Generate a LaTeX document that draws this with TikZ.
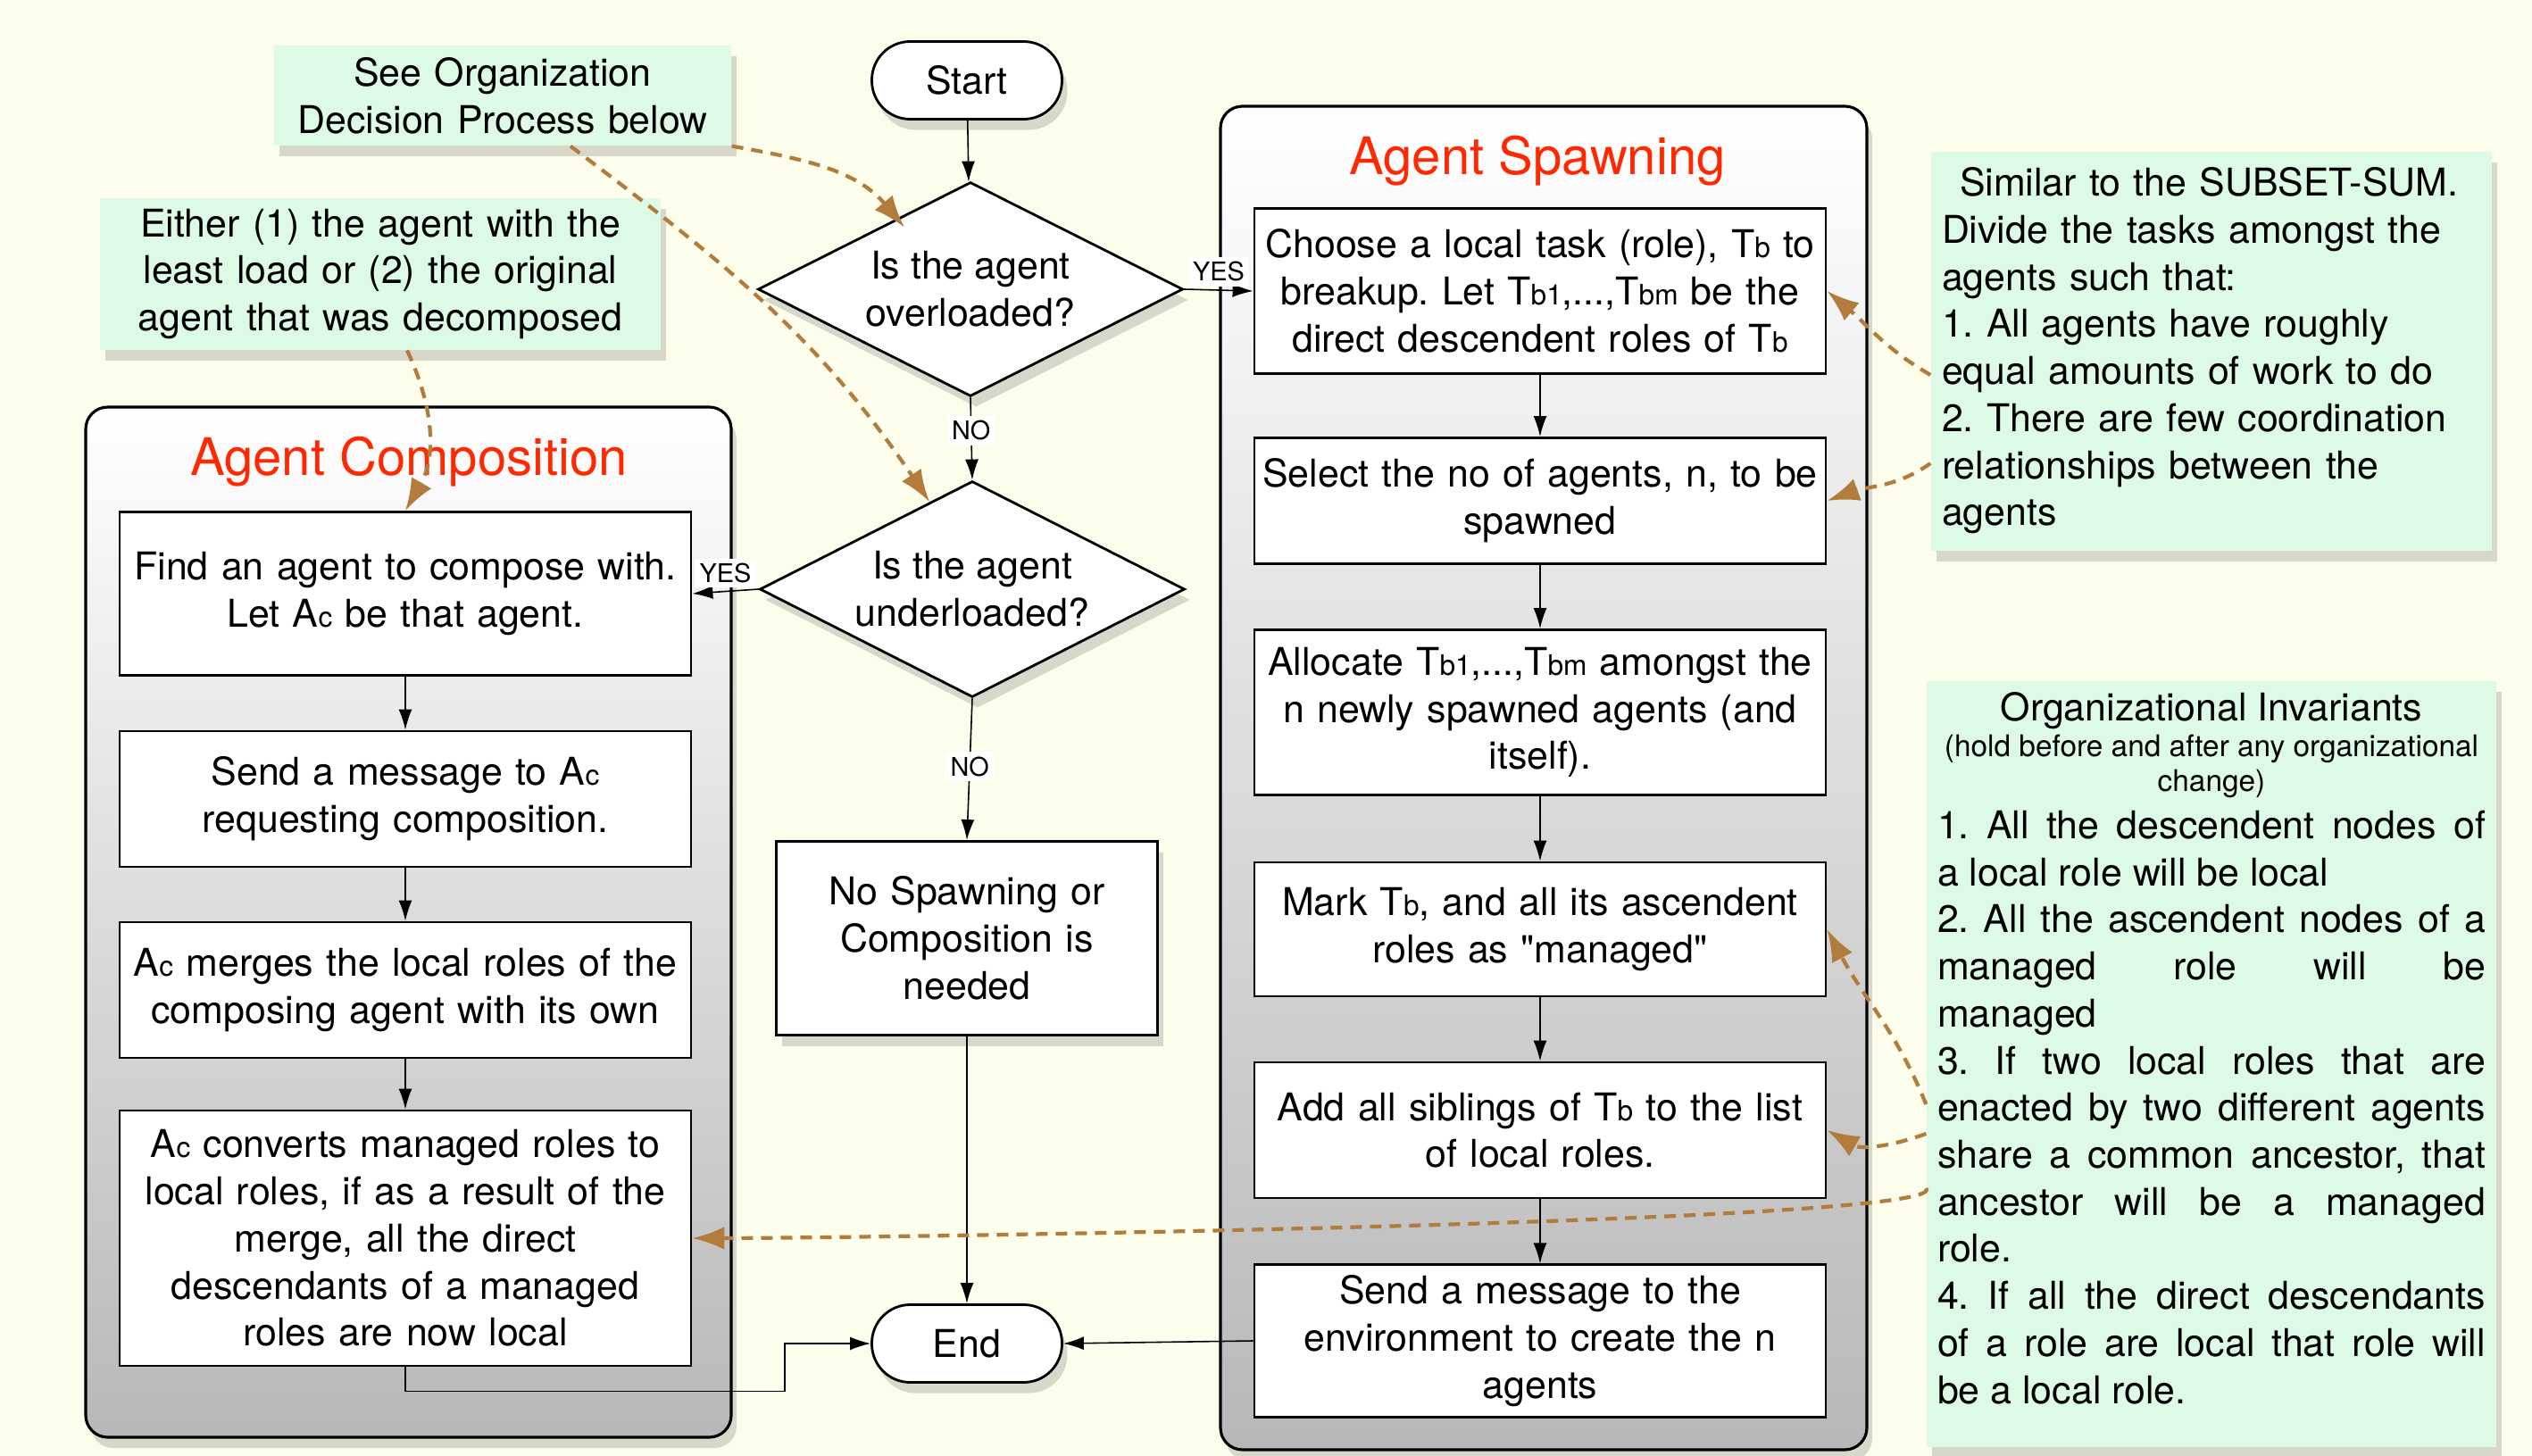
\documentclass[tikz,border=0pt]{standalone}
\usepackage{fontspec}
\setmainfont{TeX Gyre Heros}
\newfontfamily\plainfont{TeX Gyre Heros}
\usepackage{tikz}
\usetikzlibrary{arrows.meta,shapes.geometric,positioning,calc,shadows}
\frenchspacing

\definecolor{cream}{RGB}{253,253,235}
\definecolor{notegreen}{RGB}{220,250,229}
\definecolor{titlered}{RGB}{255,40,0}
\definecolor{linkbrown}{RGB}{178,124,60}
\newcommand{\sbs}[1]{{\fontsize{9}{9}\selectfont #1}}
\newcommand{\dq}{{\plainfont\symbol{34}}}

\begin{document}
\begin{tikzpicture}[
    font=\fontsize{12.2}{15}\selectfont,
    dropsh/.style={drop shadow={shadow xshift=0.6mm, shadow yshift=-1.2mm, opacity=0.3}},
    box/.style={draw, line width=0.8pt, fill=white, text width=6.4cm, inner xsep=0pt, align=center},
    term/.style={draw, line width=0.8pt, fill=white, rounded corners=4.3mm, minimum width=2.13cm, minimum height=0.87cm, dropsh},
    decision/.style={diamond, draw, line width=0.8pt, fill=white, aspect=2, minimum width=4.76cm, minimum height=2.4cm, inner sep=0pt, align=center, dropsh},
    note/.style={fill=notegreen, dropsh},
    group/.style={draw, line width=0.9pt, rounded corners=7pt, top color=white, bottom color=black!28, dropsh},
    grouptitle/.style={text=titlered, font=\fontsize{16.5}{18}\selectfont},
    lbl/.style={fill=white, inner sep=1.5pt, font=\fontsize{8.2}{9}\selectfont},
    arr/.style={-{Latex[length=2.3mm, width=1.5mm]}, line width=0.45pt},
    link/.style={linkbrown, line width=1.2pt, dash pattern=on 1.3mm off 0.9mm, -{Latex[length=3.6mm, width=2.6mm]}}
]
\useasboundingbox (0,0) rectangle (28.36,-16.31);
\fill[cream] (0,0) rectangle (28.36,-16.31);

% containers
\node[group, minimum width=7.23cm, minimum height=11.54cm] (compgrp) at (4.575,-10.33) {};
\node[group, minimum width=7.24cm, minimum height=15.05cm] (spawngrp) at (17.29,-8.715) {};
\node[grouptitle] (comptitle) at (4.58,-5.17) {Agent Composition};
\node[grouptitle] (spawntitle) at (17.22,-1.80) {Agent Spawning};

% main flow
\node[term] (start) at (10.83,-0.90) {Start};
\node[decision] (d1) at (10.87,-3.24) {Is the agent\\overloaded?};
\node[decision, minimum height=2.42cm] (d2) at (10.89,-6.60) {Is the agent\\underloaded?};
\node[box, text width=4.27cm, minimum height=2.17cm, dropsh] (nospawn) at (10.83,-10.51) {No Spawning or\\Composition is\\needed};
\node[term] (endn) at (10.83,-15.05) {End};

% composition
\node[box, minimum height=1.83cm] (find) at (4.54,-6.65) {Find an agent to compose with.\\Let A\sbs{c} be that agent.};
\node[box, minimum height=1.52cm] (sendmsg) at (4.54,-8.95) {Send a message to A\sbs{c}\\requesting composition.};
\node[box, minimum height=1.52cm] (merge) at (4.54,-11.09) {A\sbs{c} merges the local roles of the\\composing agent with its own};
\node[box, minimum height=2.86cm] (convert) at (4.54,-13.87) {A\sbs{c} converts managed roles to\\local roles, if as a result of the\\merge, all the direct\\descendants of a managed\\roles are now local};

% spawning
\node[box, minimum height=1.85cm] (choose) at (17.25,-3.26) {Choose a local task (role), T\sbs{b} to\\breakup. Let T\sbs{b1},...,T\sbs{bm} be the\\direct descendent roles of T\sbs{b}};
\node[box, minimum height=1.41cm] (select) at (17.25,-5.61) {Select the no of agents, n, to be\\spawned};
\node[box, minimum height=1.85cm] (alloc) at (17.25,-7.98) {Allocate T\sbs{b1},...,T\sbs{bm} amongst the\\n newly spawned agents (and\\itself).};
\node[box, minimum height=1.50cm] (mark) at (17.25,-10.41) {Mark T\sbs{b}, and all its ascendent\\roles as \dq managed\dq};
\node[box, minimum height=1.52cm] (addsib) at (17.25,-12.66) {Add all siblings of T\sbs{b} to the list\\of local roles.};
\node[box, minimum height=1.68cm] (sendenv) at (17.25,-15.02) {Send a message to the\\environment to create the n\\agents};

% notes
\node[note, text width=5.0cm, inner xsep=0.06cm, minimum height=1.12cm, align=center] (seeorg) at (5.63,-1.07) {See Organization\\Decision Process below};
\node[note, text width=6.16cm, inner xsep=0.06cm, minimum height=1.66cm, align=center] (either) at (4.26,-3.07) {Either (1) the agent with the\\least load or (2) the original\\agent that was decomposed};
\node[note, text width=6.04cm, inner xsep=0.12cm, minimum height=4.47cm, align=left] (similar) at (24.77,-3.93) {\hspace*{0.2cm}Similar to the SUBSET-SUM.\\Divide the tasks amongst the\\agents such that:\\1. All agents have roughly\\equal amounts of work to do\\2. There are few coordination\\relationships between the\\agents};
\node[note, text width=6.14cm, inner xsep=0.12cm, minimum height=8.58cm, align=justify] (invar) at (24.77,-11.92) {%
  {\centering Organizational Invariants\par
  {\fontsize{9.5}{11.3}\selectfont (hold before and after any organizational change)\par}}
  1. All the descendent nodes of\linebreak a local role will be local\par
  2. All the ascendent nodes of a\linebreak managed role will be\linebreak managed\par
  3. If two local roles that are\linebreak enacted by two different agents\linebreak share a common ancestor, that\linebreak ancestor will be a managed\linebreak role.\par
  4. If all the direct descendants\linebreak of a role are local that role will\linebreak be a local role.\par
  \vspace{0.36cm}\hrule height 0pt};

% flow arrows
\draw[arr] (start) -- (d1);
\draw[arr] (d1.east) -- node[lbl, above=1pt] {YES} (choose.west);
\draw[arr] (d1.south) -- node[lbl, pos=0.4] {NO} (d2.north);
\draw[arr] (d2.west) -- node[lbl, above=1pt] {YES} (find.east);
\draw[arr] (d2.south) -- node[lbl, pos=0.48] {NO} (nospawn.north);
\draw[arr] (nospawn) -- (endn);
\draw[arr] (find) -- (sendmsg);
\draw[arr] (sendmsg) -- (merge);
\draw[arr] (merge) -- (convert);
\draw[arr] (convert.south) -- ++(0,-0.27) -| ([xshift=-9.6mm]endn.west) -- (endn.west);
\draw[arr] (choose) -- (select);
\draw[arr] (select) -- (alloc);
\draw[arr] (alloc) -- (mark);
\draw[arr] (mark) -- (addsib);
\draw[arr] (addsib) -- (sendenv);
\draw[arr] (sendenv.west) -- (endn.east);

% note links
\draw[link] (seeorg.south east) to[out=-10, in=130] ($(d1.north)!0.33!(d1.west)+(0.05,-0.12)$);
\draw[link] ([xshift=7.6mm]seeorg.south) to[out=-37, in=124] ($(d2.north)!0.2!(d2.west)$);
\draw[link] ([xshift=3mm]either.south) to[out=-65, in=60] (find.north);
\draw[link] ([yshift=-2.7mm]similar.west) to[out=150, in=-40] (choose.east);
\draw[link] ([yshift=-12.6mm]similar.west) to[out=215, in=20] (select.east);
\draw[link] ([yshift=-4.5mm]invar.west) to[out=112, in=-62] (mark.east);
\draw[link] ([yshift=-7.8mm]invar.west) to[out=200, in=-30] (addsib.east);
\draw[link] ([yshift=-13.9mm]invar.west) .. controls +(0.35,-0.4) and +(1.5,0) .. (convert.east);
\end{tikzpicture}
\end{document}
